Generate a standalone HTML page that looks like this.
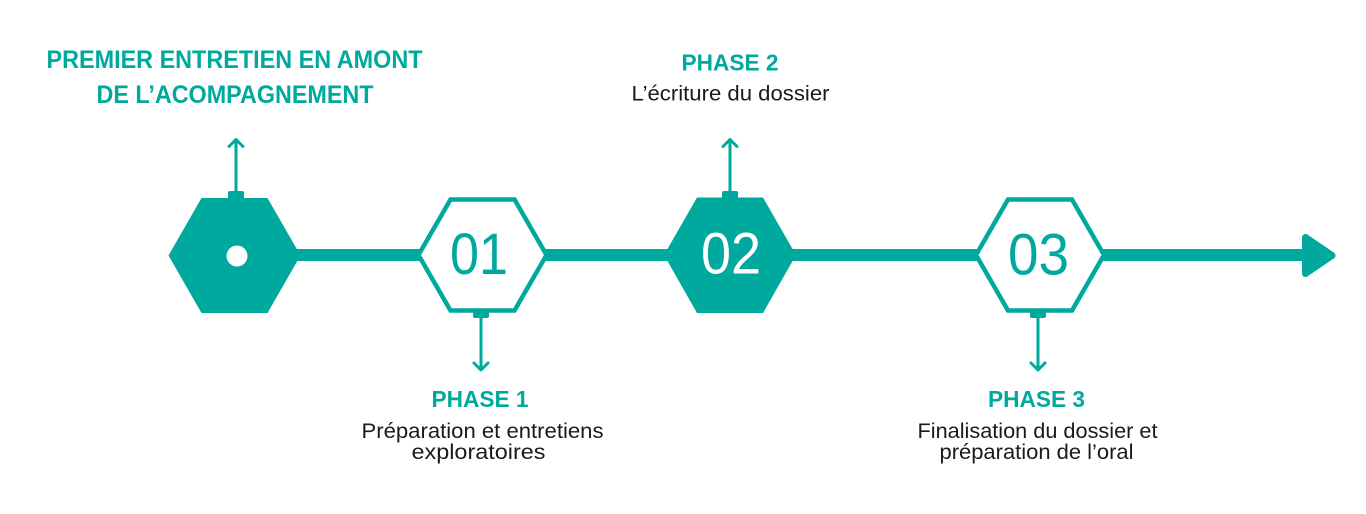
<!DOCTYPE html>
<html>
<head>
<meta charset="utf-8">
<style>
  html, body { margin: 0; padding: 0; background: #ffffff; }
  body { width: 1366px; height: 514px; overflow: hidden; }
  svg { display: block; }
  .t { font-family: "Liberation Sans", Arial, sans-serif; }
</style>
</head>
<body>
<svg width="1366" height="514" viewBox="0 0 1366 514" xmlns="http://www.w3.org/2000/svg">
  <rect width="1366" height="514" fill="#ffffff"/>

  <!-- main line -->
  <line x1="290" y1="255" x2="1310" y2="255" stroke="#00A99D" stroke-width="12"/>
  <!-- arrowhead -->
  <polygon points="1305.5,237.5 1332,255.5 1305.5,273.5" fill="#00A99D" stroke="#00A99D" stroke-width="7" stroke-linejoin="round"/>

  <!-- hex 0 filled -->
  <polygon points="168.5,255.5 201.5,198 267.5,198 300.5,255.5 267.5,313 201.5,313" fill="#00A99D"/>
  <circle cx="237" cy="256" r="10.5" fill="#ffffff"/>
  <rect x="228" y="191" width="16" height="9" rx="2" fill="#00A99D"/>
  <line x1="236" y1="192" x2="236" y2="141" stroke="#00A99D" stroke-width="3"/>
  <polyline points="229,146.5 236,139.5 243,146.5" fill="none" stroke="#00A99D" stroke-width="3" stroke-linecap="round" stroke-linejoin="round"/>

  <!-- hex 1 outline -->
  <polygon points="418.5,255 450.5,199.5 514.5,199.5 546.5,255 514.5,310.5 450.5,310.5" fill="#ffffff" stroke="#00A99D" stroke-width="4.5"/>
  <text class="t" x="479" y="274" font-size="58" fill="#00A99D" text-anchor="middle" textLength="58" lengthAdjust="spacingAndGlyphs">01</text>
  <rect x="473" y="310" width="16" height="8" rx="2" fill="#00A99D"/>
  <line x1="481" y1="316" x2="481" y2="368" stroke="#00A99D" stroke-width="3"/>
  <polyline points="474,363 481,370 488,363" fill="none" stroke="#00A99D" stroke-width="3" stroke-linecap="round" stroke-linejoin="round"/>

  <!-- hex 2 filled -->
  <polygon points="664,255 697,197.5 763,197.5 796,255 763,313 697,313" fill="#00A99D"/>
  <text class="t" x="731" y="273.5" font-size="58" fill="#ffffff" text-anchor="middle" textLength="60" lengthAdjust="spacingAndGlyphs">02</text>
  <rect x="722" y="191" width="16" height="9" rx="2" fill="#00A99D"/>
  <line x1="730" y1="192" x2="730" y2="141" stroke="#00A99D" stroke-width="3"/>
  <polyline points="723,146.5 730,139.5 737,146.5" fill="none" stroke="#00A99D" stroke-width="3" stroke-linecap="round" stroke-linejoin="round"/>

  <!-- hex 3 outline -->
  <polygon points="976,255 1008,199.5 1072,199.5 1104,255 1072,310.5 1008,310.5" fill="#ffffff" stroke="#00A99D" stroke-width="4.5"/>
  <text class="t" x="1038.5" y="274.5" font-size="58" fill="#00A99D" text-anchor="middle" textLength="61" lengthAdjust="spacingAndGlyphs">03</text>
  <rect x="1030" y="310" width="16" height="8" rx="2" fill="#00A99D"/>
  <line x1="1038" y1="316" x2="1038" y2="368" stroke="#00A99D" stroke-width="3"/>
  <polyline points="1031,363 1038,370 1045,363" fill="none" stroke="#00A99D" stroke-width="3" stroke-linecap="round" stroke-linejoin="round"/>

  <!-- Title -->
  <text class="t" x="234.5" y="68" font-size="25" font-weight="bold" fill="#00A99D" text-anchor="middle" textLength="376" lengthAdjust="spacingAndGlyphs">PREMIER ENTRETIEN EN AMONT</text>
  <text class="t" x="235" y="103" font-size="25" font-weight="bold" fill="#00A99D" text-anchor="middle" textLength="277" lengthAdjust="spacingAndGlyphs">DE L’ACOMPAGNEMENT</text>

  <!-- Phase 2 -->
  <text class="t" x="730" y="70.5" font-size="23" font-weight="bold" fill="#00A99D" text-anchor="middle" textLength="97" lengthAdjust="spacingAndGlyphs">PHASE 2</text>
  <text class="t" x="730.5" y="100.5" font-size="21" fill="#1a1a1a" text-anchor="middle" textLength="198" lengthAdjust="spacingAndGlyphs">L’écriture du dossier</text>

  <!-- Phase 1 -->
  <text class="t" x="480" y="407" font-size="23" font-weight="bold" fill="#00A99D" text-anchor="middle" textLength="97" lengthAdjust="spacingAndGlyphs">PHASE 1</text>
  <text class="t" x="482.5" y="438" font-size="21" fill="#1a1a1a" text-anchor="middle" textLength="242" lengthAdjust="spacingAndGlyphs">Préparation et entretiens</text>
  <text class="t" x="478.5" y="459" font-size="21" fill="#1a1a1a" text-anchor="middle" textLength="134" lengthAdjust="spacingAndGlyphs">exploratoires</text>

  <!-- Phase 3 -->
  <text class="t" x="1036.5" y="407" font-size="23" font-weight="bold" fill="#00A99D" text-anchor="middle" textLength="97" lengthAdjust="spacingAndGlyphs">PHASE 3</text>
  <text class="t" x="1037.5" y="438" font-size="21" fill="#1a1a1a" text-anchor="middle" textLength="240" lengthAdjust="spacingAndGlyphs">Finalisation du dossier et</text>
  <text class="t" x="1036.5" y="459" font-size="21" fill="#1a1a1a" text-anchor="middle" textLength="194" lengthAdjust="spacingAndGlyphs">préparation de l’oral</text>
</svg>
</body>
</html>
